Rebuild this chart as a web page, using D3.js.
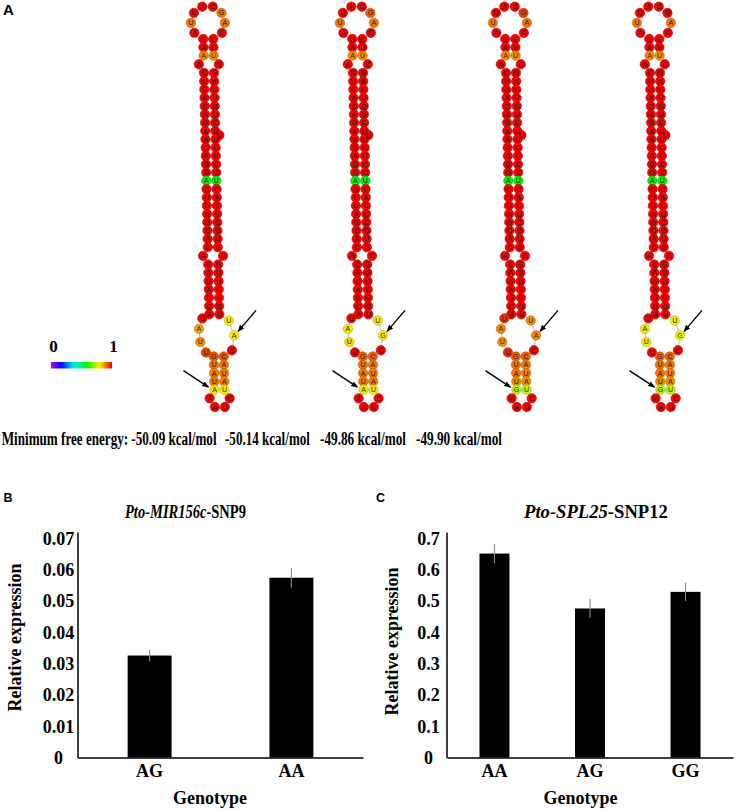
<!DOCTYPE html>
<html><head><meta charset="utf-8">
<script src="https://cdn.jsdelivr.net/npm/d3@7/dist/d3.min.js"></script>
<style>html,body{margin:0;padding:0;background:#fff}svg{display:block}</style>
</head><body>
<script>
// ================= DATA =================
// Panel A : predicted secondary structures (base-pair probability 0..1)
const mfeValues = [-50.09, -50.14, -49.86, -49.90];
const mfePrefix = "Minimum free energy: ";
const topLoopBases = ["A","U","U","A","C","G","A","C"];
const topLoopProb = [[1,0.9,1,1,1,0.9,0.9,1],[1,0.9,1,1,1,0.92,0.9,1],[1,0.9,1,1,1,0.95,0.9,1],[1,0.9,1,1,1,1,0.9,1]];
const stemA_L = ["G","A","A"], stemA_R = ["C","U","U"], stemA_P = [1,1,0.88];
const loop1_L = ["A"], loop1_R = ["C"];
const stemB_L = ["C","U","G","A","C","A","G","A","A","G","A","G","G","A","G","U","G","A","G","C","A","C"];
const stemB_R = ["G","A","C","U","G","U","C","U","U","C","U","C","C","U","C","A","C","U","C","G","U","G"];
const stemB_P = [1,1,1,1,1,1,1,1,1,1,1,1,1,0.58,1,1,1,1,1,1,1,1];
const bulgeB_after = 7, bulgeB_base = "U";
const loop2_L = ["A"], loop2_R = ["C"];
const stemC_L = ["C","A","G","A","G","C","A"], stemC_R = ["G","U","U","C","G","G","U"];
const bigLoop_L = ["U","A","U","U"];
const bigLoopSnp = ["A","G","A","G"];          // upper SNP site
const bigLoopP_L = [[1,0.86,0.88,0.95],[1,0.8,0.81,1],[0.96,0.88,0.88,0.97],[1,0.8,0.8,1]];
const bigLoopP_R = [[0.8,0.8,1],[0.8,0.8,1],[0.88,0.88,1],[0.8,0.79,1]];
const stemD_L = ["G","U","A","U"], stemD_R = ["C","A","U","A","U"];
const stemDSnp = ["A","A","G","G"];             // lower SNP site
const stemDP = [[0.93,0.9,0.9,0.9,0.8],[0.92,0.9,0.9,0.9,0.8],[0.92,0.9,0.9,0.88,0.74],[0.92,0.9,0.9,0.88,0.74]];
const bottomBases = ["A","A","U","C"];

// Panel B
const genoB = ["AG","AA"];
const exprB = [0.0325, 0.0573];
const errB  = [0.0018, 0.0031];
const ticksB = [0,0.01,0.02,0.03,0.04,0.05,0.06,0.07];
const tickLabelsB = ["0","0.01","0.02","0.03","0.04","0.05","0.06","0.07"];
// Panel C
const genoC = ["AA","AG","GG"];
const exprC = [0.650, 0.475, 0.528];
const errC  = [0.030, 0.030, 0.029];
const ticksC = [0,0.1,0.2,0.3,0.4,0.5,0.6,0.7];
const tickLabelsC = ["0","0.1","0.2","0.3","0.4","0.5","0.6","0.7"];

// ================= DRAWING =================
const svg = d3.select("body").append("svg").attr("width",737).attr("height",810);
const SERIF = "'Liberation Serif','Times New Roman',Times,serif";
const SANS = "'Liberation Sans',Arial,Helvetica,sans-serif";
const hue = d3.scaleLinear().domain([0,1]).range([288,0]);
const probColor = p => d3.hsl(hue(p), 1, 0.48).formatHex();

const defs = svg.append("defs");
defs.append("marker").attr("id","ah").attr("viewBox","0 0 10 10").attr("refX",9).attr("refY",5)
  .attr("markerWidth",7).attr("markerHeight",7).attr("markerUnits","userSpaceOnUse").attr("orient","auto")
  .append("path").attr("d","M0,1 L10,5 L0,9 z").attr("fill","#000");

const STEP = 8.3, HALF = 5, NT_R = 4.7;
const stemCenters = [214, 363, 516, 660];
const SLANT = 0.022, REF_Y = 300, FIRST_PAIR_Y = 39;

function buildStructure(k){
  const nodes=[], pairs=[], leftChain=[], rightChain=[], topChain=[], bottomChain=[];
  let shift = 0, y = FIRST_PAIR_Y;
  const mk = (base,p,x,yy)=>{ const n={base,p,x:stemCenters[k]+shift+x+SLANT*(yy-REF_Y),y:yy}; nodes.push(n); return n; };
  const M = topLoopBases.length+2, r = 10.5/(2*Math.sin(Math.PI/M));
  const cy = y - r*Math.cos(Math.PI/M);
  topLoopBases.forEach((b,i)=>{
    const th = (90+180/M+(i+1)*360/M)*Math.PI/180;
    topChain.push(mk(b, topLoopProb[k][i], r*Math.cos(th), cy+r*Math.sin(th)));
  });
  function stem(Ls,Rs,pL,pR,bulgeAfter,bulgeBase){
    Ls.forEach((b,i)=>{
      if(i>0) y += STEP;
      const a = mk(b,pL[i],-HALF,y), c = mk(Rs[i],pR[i],HALF,y);
      leftChain.push(a); rightChain.push(c); pairs.push([a,c]);
      if(bulgeAfter===i) rightChain.push(mk(bulgeBase,1,HALF+4,y+STEP/2));
    });
  }
  function iloop(Ls,Rs,pL,pR){
    const n = Math.max(Ls.length,Rs.length);
    const G = STEP*n+9, a = 10+2.5*(n-1), dShift=(Ls.length-Rs.length)*3.5;
    const y0=y, base=shift;
    const place=(arr,probs,side,chain)=>arr.forEach((b,j)=>{
      const phi=Math.PI*(j+1)/(arr.length+1);
      const yy=y0+G/2-G/2*Math.cos(phi);
      shift=base+dShift*(1-Math.cos(phi))/2;
      chain.push(mk(b,probs[j],side*(HALF+(a-HALF)*Math.sin(phi)),yy));
    });
    place(Ls,pL,-1,leftChain); place(Rs,pR,1,rightChain);
    shift=base+dShift; y=y0+G;
  }
  const ones = arr => arr.map(()=>1);
  stem(stemA_L,stemA_R,stemA_P,stemA_P);
  iloop(loop1_L,loop1_R,ones(loop1_L),ones(loop1_R));
  stem(stemB_L,stemB_R,stemB_P,stemB_P,bulgeB_after,bulgeB_base);
  iloop(loop2_L,loop2_R,ones(loop2_L),ones(loop2_R));
  stem(stemC_L,stemC_R,ones(stemC_L),ones(stemC_R));
  const bigR = ["U",bigLoopSnp[k],"C"];
  const nR0 = rightChain.length;
  iloop(bigLoop_L,bigR,bigLoopP_L[k],bigLoopP_R[k]);
  const snpUpper = rightChain[nR0+1];
  const dL = stemD_L.concat([stemDSnp[k]]);
  stem(dL,stemD_R,stemDP[k],stemDP[k]);
  const snpLower = leftChain[leftChain.length-1];
  const Mb = bottomBases.length+2, rb = 10/(2*Math.sin(Math.PI/Mb));
  const cyb = y + rb*Math.cos(Math.PI/Mb);
  bottomBases.forEach((b,i)=>{
    const th=(270-180/Mb-(i+1)*360/Mb)*Math.PI/180;
    bottomChain.push(mk(b,1,rb*Math.cos(th),cyb+rb*Math.sin(th)));
  });
  const backbone=[bottomChain[1],bottomChain[0],...leftChain.slice().reverse(),...topChain,...rightChain,bottomChain[3],bottomChain[2]];
  return {nodes,pairs,backbone,snpUpper,snpLower};
}

d3.range(4).forEach(k=>{
  const S = buildStructure(k);
  const g = svg.append("g");
  g.append("path").attr("d",d3.line().x(d=>d.x).y(d=>d.y)(S.backbone))
    .attr("fill","none").attr("stroke","#a0a0a0").attr("stroke-width",0.7);
  g.selectAll("line.pair").data(S.pairs).join("line").attr("class","pair")
    .attr("x1",d=>d[0].x).attr("y1",d=>d[0].y).attr("x2",d=>d[1].x).attr("y2",d=>d[1].y)
    .attr("stroke","#a0a0a0").attr("stroke-width",0.7);
  g.selectAll("circle").data(S.nodes).join("circle")
    .attr("cx",d=>d.x).attr("cy",d=>d.y).attr("r",NT_R)
    .attr("fill",d=>probColor(d.p)).attr("stroke",d=>d3.color(probColor(d.p)).darker(0.8)).attr("stroke-width",0.6);
  g.selectAll("text").data(S.nodes).join("text")
    .attr("x",d=>d.x).attr("y",d=>d.y+2.5).attr("text-anchor","middle")
    .attr("font-family",SANS).attr("font-size",7).attr("fill","#1a1a1a").text(d=>d.base);
  const arrows=[
    {from:[S.snpUpper.x+22,S.snpUpper.y-25],to:[S.snpUpper.x+4,S.snpUpper.y-4]},
    {from:[S.snpLower.x-31,S.snpLower.y-19],to:[S.snpLower.x-6,S.snpLower.y-2.5]}];
  g.selectAll("line.arrow").data(arrows).join("line").attr("class","arrow")
    .attr("x1",d=>d.from[0]).attr("y1",d=>d.from[1]).attr("x2",d=>d.to[0]).attr("y2",d=>d.to[1])
    .attr("stroke","#000").attr("stroke-width",1.4).attr("marker-end","url(#ah)");
});

// colour key
const grad = defs.append("linearGradient").attr("id","key");
d3.range(0,1.0001,0.05).forEach(t=>grad.append("stop").attr("offset",t).attr("stop-color",probColor(t)));
svg.append("rect").attr("x",51).attr("y",362).attr("width",61).attr("height",6.5).attr("fill","url(#key)");
svg.append("text").attr("x",53.5).attr("y",352).attr("text-anchor","middle").attr("font-family",SERIF)
  .attr("font-weight","bold").attr("font-size",17).text("0");
svg.append("text").attr("x",113.5).attr("y",352).attr("text-anchor","middle").attr("font-family",SERIF)
  .attr("font-weight","bold").attr("font-size",17).text("1");

// horizontally-fitted text helper (condensed like the reference)
function fitText(sel, x, y, width, anchor, sy){
  const w = sel.node().getComputedTextLength();
  const sx = width / w;
  const ax = anchor==="middle" ? x - width/2 : x;
  sel.attr("text-anchor","start").attr("transform",`translate(${ax},${y}) scale(${sx},${sy||1})`);
}

// MFE labels
const mfeX = [1.7, 225, 320, 416], mfeW = [215, 85, 86, 86];
mfeValues.forEach((v,i)=>{
  const t = svg.append("text").attr("font-family",SERIF).attr("font-weight","bold")
    .attr("font-size",18).text((i===0?mfePrefix:"")+v.toFixed(2)+" kcal/mol");
  fitText(t, mfeX[i], 445, mfeW[i], "start", 1.1);
});

// panel letters
svg.append("text").attr("x",3).attr("y",15).attr("font-family",SANS).attr("font-weight","bold").attr("font-size",15).text("A");
svg.append("text").attr("x",3.5).attr("y",502).attr("font-family",SANS).attr("font-weight","bold").attr("font-size",12.5).text("B");
svg.append("text").attr("x",376).attr("y",502).attr("font-family",SANS).attr("font-weight","bold").attr("font-size",12.5).text("C");

// ===== bar charts =====
function barChart(c){
  const g = svg.append("g");
  const y = d3.scaleLinear().domain([0,c.max]).range([757.5, 757.5-219.6]);
  const x = d3.scaleBand().domain(c.cats).range([c.left,c.right]).paddingInner(c.pin).paddingOuter(c.pout);
  g.selectAll("rect").data(c.vals).join("rect")
    .attr("x",(d,i)=>x(c.cats[i])).attr("y",d=>y(d)).attr("width",x.bandwidth()).attr("height",d=>y(0)-y(d)).attr("fill","#000");
  g.selectAll("line.err").data(c.vals).join("line").attr("class","err")
    .attr("x1",(d,i)=>x(c.cats[i])+x.bandwidth()/2).attr("x2",(d,i)=>x(c.cats[i])+x.bandwidth()/2)
    .attr("y1",(d,i)=>y(d+c.errs[i])).attr("y2",(d,i)=>y(d-c.errs[i]))
    .attr("stroke","#8a8a8a").attr("stroke-width",1.1);
  const ya = g.append("g").attr("transform",`translate(${c.left},0)`)
    .call(d3.axisLeft(y).tickValues(c.ticks).tickSize(0).tickFormat((d,i)=>c.tickLabels[i]));
  ya.select(".domain").remove();
  ya.selectAll("text").attr("x",c.labelX-c.left).attr("dy","0.34em").attr("text-anchor","middle")
    .attr("font-family",SERIF).attr("font-weight","bold").attr("font-size",18).attr("fill","#000");
  g.append("line").attr("x1",c.left).attr("x2",c.left).attr("y1",532.5).attr("y2",758.2).attr("stroke","#000").attr("stroke-width",1.5);
  const xa = g.append("g").attr("transform","translate(0,757.5)").call(d3.axisBottom(x).tickSize(0).tickSizeOuter(0));
  xa.select(".domain").attr("stroke","#000").attr("stroke-width",1.5);
  xa.selectAll("text").attr("y",19.2).attr("dy",0).attr("font-family",SERIF).attr("font-weight","bold").attr("font-size",18).attr("fill","#000");
  g.append("text").attr("transform",`translate(${c.ylabX},${c.ylabY}) rotate(-90)`).attr("text-anchor","middle")
    .attr("dy","0.35em").attr("font-family",SERIF).attr("font-weight","bold").attr("font-size",18).text("Relative expression");
  g.append("text").attr("x",c.xlabX).attr("y",804).attr("text-anchor","middle")
    .attr("font-family",SERIF).attr("font-weight","bold").attr("font-size",18).text("Genotype");
  const t = g.append("text").attr("font-family",SERIF).attr("font-weight","bold").attr("font-size",18);
  t.append("tspan").attr("font-style","italic").text(c.gene);
  t.append("tspan").text(c.snp);
  fitText(t, c.titleX, 518, c.titleW, "middle");
}
barChart({cats:genoB,vals:exprB,errs:errB,ticks:ticksB,tickLabels:tickLabelsB,max:0.07,left:78,right:363,pin:0.69,pout:0.35,
  labelX:58.5,ylabX:15,ylabY:637.5,xlabX:210,titleX:185.5,titleW:121,gene:"Pto-MIR156c",snp:"-SNP9"});
barChart({cats:genoC,vals:exprC,errs:errC,ticks:ticksC,tickLabels:tickLabelsC,max:0.7,left:447,right:733,pin:0.686,pout:0.34,
  labelX:428.5,ylabX:391.7,ylabY:641.5,xlabX:580.5,titleX:596,titleW:144,gene:"Pto-SPL25",snp:"-SNP12"});
</script>
</body></html>
